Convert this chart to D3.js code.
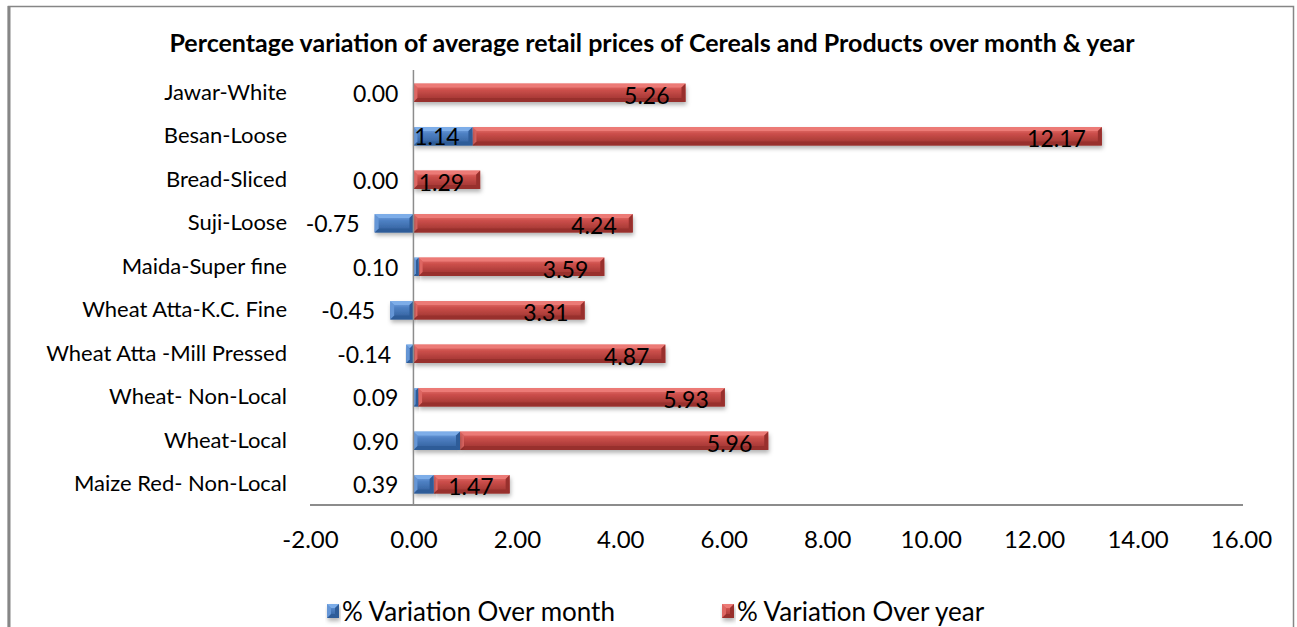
<!DOCTYPE html>
<html>
<head>
<meta charset="utf-8">
<script src="https://cdn.jsdelivr.net/npm/d3@7"></script>
<style>
	body { margin: 0; background: #fff; }
	text { font-family: Lato, "Open Sans", sans-serif; fill: #000; }
</style>
</head>
<body>
<div id="chart"></div>
<script>
///////////////////////////////////////////////////////////////////////////
//////////////////////////// data /////////////////////////////////////////
///////////////////////////////////////////////////////////////////////////

const categories = [
	"Jawar-White",
	"Besan-Loose",
	"Bread-Sliced",
	"Suji-Loose",
	"Maida-Super fine",
	"Wheat Atta-K.C. Fine ",
	"Wheat Atta -Mill Pressed",
	"Wheat- Non-Local",
	"Wheat-Local",
	"Maize Red- Non-Local"
];
const overMonth = [0.0, 1.14, 0.0, -0.75, 0.1, -0.45, -0.14, 0.09, 0.9, 0.39];
const overYear = [5.26, 12.17, 1.29, 4.24, 3.59, 3.31, 4.87, 5.93, 5.96, 1.47];
const xTicks = [-2, 0, 2, 4, 6, 8, 10, 12, 14, 16];
const seriesNames = ["% Variation Over month", "% Variation Over year"];
const chartTitle =
	"Percentage variation of average retail prices of Cereals and Products over month & year";

const data = categories.map((c, i) => ({
	cat: c,
	month: overMonth[i],
	year: overYear[i]
}));

//////////////////////////// accessors ////////////////////////////////////

const yAccessor = (d) => d.cat;
const mAccessor = (d) => d.month;
const rAccessor = (d) => d.year;

// plain hyphen for negatives, like the original
const locale = d3.formatLocale({
	decimal: ".",
	thousands: ",",
	grouping: [3],
	currency: ["", ""],
	minus: "-"
});
const fmt = locale.format(".2f");

///////////////////////////////////////////////////////////////////////////
//////////////////////////// drawing function /////////////////////////////
///////////////////////////////////////////////////////////////////////////

const createChart = () => {
	const dimensions = { width: 1297, height: 627 };

	const wrapper = d3
		.select("#chart")
		.append("svg")
		.attr("width", dimensions.width)
		.attr("height", dimensions.height);

	//////////////////////////// colors / defs ////////////////////////////////

	const colors = {
		month: { light: "#7dade8", mid: "#4f81c4", dark: "#2e5c98", side: "#6596d6" },
		year: { light: "#ec7a76", mid: "#cc4f4b", dark: "#98302d", side: "#de6662" }
	};

	const defs = wrapper.append("defs");
	Object.entries(colors).forEach(([key, c]) => {
		const g = defs
			.append("linearGradient")
			.attr("id", "grad-" + key)
			.attr("x1", 0).attr("x2", 0).attr("y1", 0).attr("y2", 1);
		g.append("stop").attr("offset", "0%").attr("stop-color", c.light);
		g.append("stop").attr("offset", "35%").attr("stop-color", c.mid);
		g.append("stop").attr("offset", "100%").attr("stop-color", c.dark);
	});
	defs
		.append("filter")
		.attr("id", "shadow")
		.attr("x", "-10%").attr("y", "-30%").attr("width", "120%").attr("height", "180%")
		.append("feDropShadow")
		.attr("dx", 1).attr("dy", 3).attr("stdDeviation", 2)
		.attr("flood-color", "#000").attr("flood-opacity", 0.3);

	//////////////////////////// frame ////////////////////////////////////////

	wrapper
		.append("rect")
		.attr("x", 8.5).attr("y", 6.5)
		.attr("width", 1285).attr("height", 640)
		.attr("fill", "none")
		.attr("stroke", "#868686")
		.attr("stroke-width", 1.5);
	wrapper
		.append("line")
		.attr("x1", 9).attr("x2", 9).attr("y1", 6).attr("y2", 627)
		.attr("stroke", "#868686").attr("stroke-width", 3);

	//////////////////////////// title ////////////////////////////////////////

	wrapper
		.append("text")
		.attr("x", 652)
		.attr("y", 52)
		.attr("text-anchor", "middle")
		.style("font-weight", "bold")
		.style("font-size", "25px")
		.text(chartTitle);

	//////////////////////////// scales ///////////////////////////////////////

	const xScale = d3.scaleLinear().domain([-2, 16]).range([310, 1241]);

	const yScale = d3
		.scaleBand()
		.domain(categories)
		.range([71, 506])
		.paddingInner(0.58)
		.paddingOuter(0.29);

	//////////////////////////// axes /////////////////////////////////////////

	const xAxis = d3
		.axisBottom(xScale)
		.tickValues(xTicks)
		.tickFormat(fmt)
		.tickSize(0)
		.tickPadding(26);

	const xAxisGroup = wrapper
		.append("g")
		.attr("transform", "translate(0,505)")
		.call(xAxis);
	xAxisGroup.select(".domain").remove();
	xAxisGroup
		.selectAll("text")
		.style("font-size", "24px")
		.style("font-family", "Lato, sans-serif");

	wrapper
		.append("line")
		.attr("x1", 310).attr("x2", 1243)
		.attr("y1", 505).attr("y2", 505)
		.attr("stroke", "#8c8c8c").attr("stroke-width", 2);

	const yAxis = d3.axisLeft(yScale).tickSize(0).tickPadding(0);
	const yAxisGroup = wrapper
		.append("g")
		.attr("transform", "translate(287,0)")
		.call(yAxis);
	yAxisGroup.select(".domain").remove();
	yAxisGroup
		.selectAll("text")
		.style("font-size", "22px")
		.style("font-family", "Lato, sans-serif");

	///////////////////////////////////////////////////////////////////////////
	//////////////////////////// bars /////////////////////////////////////////
	///////////////////////////////////////////////////////////////////////////

	const bevel = (sel, key) => {
		const c = colors[key];
		sel.each(function (d) {
			const g = d3.select(this);
			const x0 = +d.x0, x1 = +d.x1, y0 = +d.y0, y1 = +d.y1;
			const b = Math.min(4, (x1 - x0) / 2, (y1 - y0) / 2);
			g.append("rect")
				.attr("x", x0).attr("y", y0)
				.attr("width", x1 - x0).attr("height", y1 - y0)
				.attr("fill", "url(#grad-" + key + ")")
				.attr("filter", "url(#shadow)");
			const poly = (pts, fill) =>
				g.append("polygon")
					.attr("points", pts.map((p) => p.join(",")).join(" "))
					.attr("fill", fill);
			poly([[x0, y0], [x1, y0], [x1 - b, y0 + b], [x0 + b, y0 + b]], c.light);
			poly([[x0, y1], [x1, y1], [x1 - b, y1 - b], [x0 + b, y1 - b]], c.dark);
			poly([[x0, y0], [x0 + b, y0 + b], [x0 + b, y1 - b], [x0, y1]], c.side);
			poly([[x1, y0], [x1 - b, y0 + b], [x1 - b, y1 - b], [x1, y1]], c.dark);
		});
	};

	const bounds = wrapper.append("g");

	// month bars (from 0)
	const monthBars = data.map((d) => ({
		x0: xScale(Math.min(0, mAccessor(d))),
		x1: xScale(Math.max(0, mAccessor(d))),
		y0: yScale(yAccessor(d)),
		y1: yScale(yAccessor(d)) + yScale.bandwidth(),
		d
	}));
	// year bars stacked on positive month
	const yearBars = data.map((d) => ({
		x0: xScale(Math.max(0, mAccessor(d))),
		x1: xScale(Math.max(0, mAccessor(d)) + rAccessor(d)),
		y0: yScale(yAccessor(d)),
		y1: yScale(yAccessor(d)) + yScale.bandwidth(),
		d
	}));

	bounds
		.selectAll(".year")
		.data(yearBars)
		.join("g")
		.attr("class", "year")
		.call(bevel, "year");

	bounds
		.selectAll(".month")
		.data(monthBars.filter((b) => b.x1 - b.x0 > 0.5))
		.join("g")
		.attr("class", "month")
		.call(bevel, "month");

	// zero line
	wrapper
		.append("line")
		.attr("x1", xScale(0)).attr("x2", xScale(0))
		.attr("y1", 70).attr("y2", 505)
		.attr("stroke", "#8c8c8c").attr("stroke-width", 1.5);

	//////////////////////////// labels ///////////////////////////////////////

	bounds
		.selectAll(".lab-month")
		.data(monthBars)
		.join("text")
		.attr("class", "lab-month")
		.style("font-size", "23px")
		.attr("dy", "0.35em")
		.attr("y", (b) => (b.y0 + b.y1) / 2 + 1)
		.attr("x", (b) => (b.x1 - b.x0 > 50 ? (b.x0 + b.x1) / 2 - 6 : b.x0 - 15))
		.attr("text-anchor", (b) => (b.x1 - b.x0 > 50 ? "middle" : "end"))
		.text((b) => fmt(mAccessor(b.d)));

	bounds
		.selectAll(".lab-year")
		.data(yearBars)
		.join("text")
		.attr("class", "lab-year")
		.style("font-size", "23px")
		.attr("dy", "0.35em")
		.attr("y", (b) => (b.y0 + b.y1) / 2 + 3)
		.attr("x", (b) => b.x1 - 16)
		.attr("text-anchor", "end")
		.text((b) => fmt(rAccessor(b.d)));

	//////////////////////////// legend ///////////////////////////////////////

	const legendX = [327, 722];
	const legend = wrapper
		.selectAll(".legend")
		.data(["month", "year"])
		.join("g")
		.attr("class", "legend")
		.attr("transform", (d, i) => `translate(${legendX[i]},604)`);

	legend
		.selectAll(".sw")
		.data((k) => [{ x0: 0, x1: 12, y0: 0, y1: 14, k }])
		.join("g")
		.attr("class", "sw")
		.each(function (b) {
			d3.select(this).call(bevel, b.k);
		});

	legend
		.append("text")
		.attr("x", 15)
		.attr("y", 8)
		.attr("dy", "0.35em")
		.style("font-size", "26px")
		.text((d, i) => seriesNames[i]);
};

createChart();
</script>
</body>
</html>
